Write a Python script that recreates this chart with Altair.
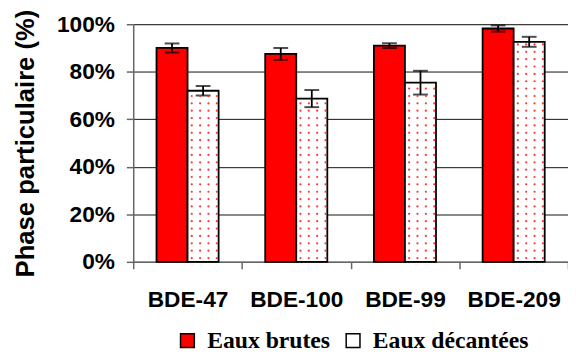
import altair as alt
import pandas as pd
import numpy as np

categories = ["BDE-47", "BDE-100", "BDE-99", "BDE-209"]
series_names = ["Eaux brutes", "Eaux décantées"]
brutes = [90.0, 87.5, 91.0, 98.2]
brutes_err = [1.9, 2.5, 1.0, 1.3]
decant = [72.0, 68.7, 75.4, 92.6]
decant_err = [2.0, 3.6, 5.0, 2.1]

rows = []
for i, c in enumerate(categories):
    rows.append({"cat": c, "serie": series_names[0], "v": brutes[i],
                 "lo": brutes[i] - brutes_err[i], "hi": brutes[i] + brutes_err[i]})
    rows.append({"cat": c, "serie": series_names[1], "v": decant[i],
                 "lo": decant[i] - decant_err[i], "hi": decant[i] + decant_err[i]})
df = pd.DataFrame(rows)

# dotted texture for the "décantées" bars (sub-columns 7..10 of 14 fall inside that bar)
dot_cols = ["c%d" % k for k in range(14)]
dots = []
for i, c in enumerate(categories):
    for yy in np.arange(1.6, decant[i] - 0.8, 3.1):
        for col in dot_cols[7:11]:
            dots.append({"cat": c, "col": col, "y": float(yy)})
dots_df = pd.DataFrame(dots)

W, H = 441, 241
xscale = alt.Scale(domain=categories, paddingInner=0, paddingOuter=0)
yscale = alt.Scale(domain=[0, 100])
offscale = alt.Scale(domain=series_names, paddingInner=0, paddingOuter=0.75)

x_axis = alt.Axis(title=None, labelFont="Liberation Sans", labelFontWeight="bold",
                  labelFontSize=23, labelColor="black", labelAngle=0, labelPadding=20,
                  tickBand="extent", tickSize=7, tickColor="#666", tickWidth=1.5,
                  domainColor="#666", domainWidth=1.5, grid=False)
y_axis = alt.Axis(title="Phase particulaire (%)", titleFont="Liberation Sans",
                  titleFontWeight="bold", titleFontSize=26, titleColor="black",
                  titlePadding=18,
                  values=[0, 20, 40, 60, 80, 100], labelExpr="datum.value + '%'",
                  labelFont="Liberation Sans", labelFontWeight="bold", labelFontSize=23,
                  labelColor="black", labelPadding=12, tickSize=7, tickColor="#666",
                  tickWidth=1.5, domainColor="#666", domainWidth=1.5,
                  grid=True, gridColor="#111", gridWidth=1)

base = alt.Chart(df)

bars = base.mark_bar(stroke="black", strokeWidth=1.8).encode(
    x=alt.X("cat:N", scale=xscale, axis=x_axis, sort=categories),
    xOffset=alt.XOffset("serie:N", scale=offscale),
    y=alt.Y("v:Q", scale=yscale, axis=y_axis),
    color=alt.Color("serie:N", scale=alt.Scale(domain=series_names, range=["#ff0000", "#ffffff"]),
                    legend=alt.Legend(title=None, orient="none", direction="horizontal",
                                      legendX=43, legendY=309,
                                      symbolType="square", symbolSize=196,
                                      symbolStrokeColor="black", symbolStrokeWidth=1.5,
                                      symbolOpacity=1, labelLimit=400,
                                      labelFont="Liberation Serif", labelFontWeight="bold",
                                      labelFontSize=24, labelColor="black",
                                      columnPadding=11, labelOffset=8)),
)

dots_layer = alt.Chart(dots_df).mark_circle(color="#ff2020", size=5, opacity=0.9).encode(
    x=alt.X("cat:N", scale=xscale, sort=categories),
    xOffset=alt.XOffset("col:N", scale=alt.Scale(domain=dot_cols, paddingInner=0, paddingOuter=0)),
    y=alt.Y("y:Q", scale=yscale),
)

rule = base.mark_rule(color="black", strokeWidth=1.8).encode(
    x=alt.X("cat:N", scale=xscale, sort=categories),
    xOffset=alt.XOffset("serie:N", scale=offscale),
    y="lo:Q", y2="hi:Q",
)
cap_lo = base.mark_tick(color="black", size=15, thickness=2).encode(
    x=alt.X("cat:N", scale=xscale, sort=categories),
    xOffset=alt.XOffset("serie:N", scale=offscale),
    y="lo:Q",
)
cap_hi = base.mark_tick(color="black", size=15, thickness=2).encode(
    x=alt.X("cat:N", scale=xscale, sort=categories),
    xOffset=alt.XOffset("serie:N", scale=offscale),
    y="hi:Q",
)

bars_group = alt.layer(bars, rule, cap_lo, cap_hi)
chart = alt.layer(bars_group, dots_layer).resolve_scale(xOffset="independent").properties(
    width=W, height=H,
    autosize=alt.AutoSizeParams(type="none"),
    padding={"top": 14, "left": 127, "right": 0, "bottom": 89}
).configure_view(stroke=None).configure(background="white")

chart.save("out.html", embed_options={"renderer": "svg", "actions": False})
